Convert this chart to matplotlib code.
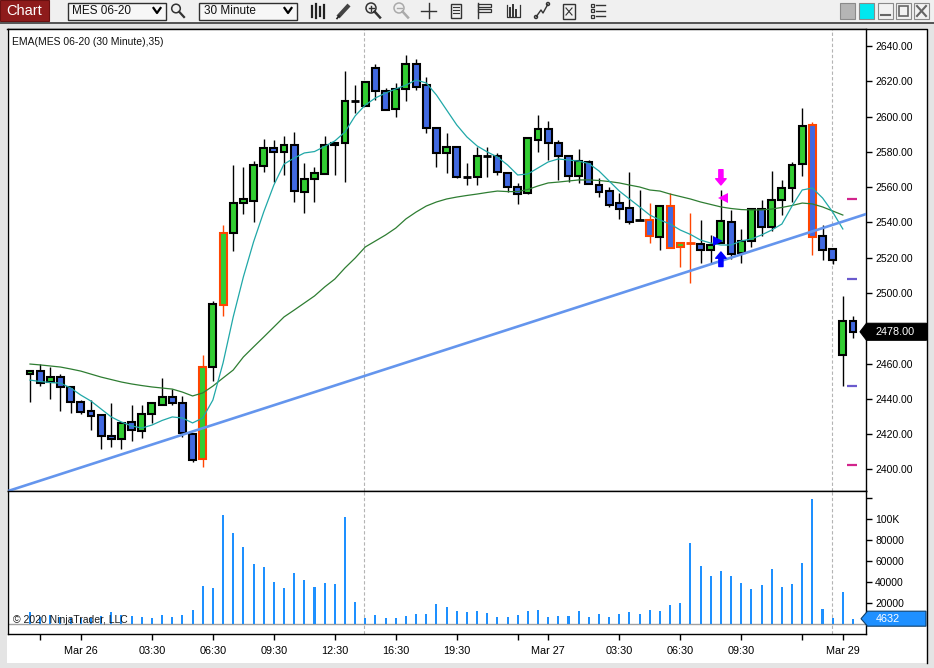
import matplotlib
matplotlib.use('Agg')
import matplotlib.pyplot as plt
import numpy as np
from matplotlib.patches import Rectangle, Polygon, Circle

plt.rcParams['font.family'] = ['Liberation Sans', 'DejaVu Sans']

# ---------------- data ----------------
opens = [2454.0, 2456.0, 2449.5, 2452.25, 2446.75, 2438.25, 2433.0, 2430.75, 2419.0, 2417.25,
         2426.75, 2421.75, 2431.5, 2436.5, 2441.0, 2437.5, 2420.0, 2405.75, 2458.0, 2493.25,
         2534.0, 2551.0, 2552.25, 2572.0, 2582.25, 2580.0, 2584.0, 2557.25, 2564.5, 2567.5,
         2584.0, 2585.0, 2609.0, 2606.0, 2627.5, 2614.75, 2604.25, 2615.5, 2629.75, 2618.0,
         2593.5, 2579.25, 2583.0, 2566.0, 2566.0, 2577.75, 2577.75, 2568.25, 2560.25, 2556.75,
         2587.0, 2593.25, 2585.25, 2577.75, 2566.25, 2574.5, 2561.25, 2558.0, 2550.75, 2548.0,
         2541.5, 2541.5, 2531.5, 2549.25, 2526.25, 2528.25, 2527.75, 2524.5, 2528.25, 2540.5,
         2522.75, 2529.5, 2547.5, 2537.25, 2552.75, 2559.75, 2573.0, 2595.0, 2532.5, 2524.75,
         2464.75, 2484.25]
highs = [2456.25, 2459.75, 2458.0, 2454.0, 2446.75, 2439.25, 2439.25, 2430.75, 2437.5, 2426.25,
         2436.5, 2436.5, 2437.5, 2451.75, 2445.5, 2441.5, 2420.0, 2464.75, 2495.5, 2538.5,
         2572.5, 2571.5, 2574.75, 2587.25, 2586.75, 2589.0, 2591.25, 2573.75, 2571.5, 2589.0,
         2585.0, 2626.0, 2618.0, 2619.75, 2630.0, 2616.5, 2619.0, 2635.0, 2632.75, 2622.75,
         2593.5, 2590.75, 2583.0, 2573.75, 2583.0, 2583.0, 2579.5, 2568.25, 2562.5, 2587.75,
         2601.0, 2597.75, 2586.5, 2577.75, 2581.5, 2575.5, 2565.25, 2560.25, 2556.75, 2568.75,
         2558.5, 2551.0, 2549.25, 2556.5, 2528.25, 2545.5, 2541.5, 2533.0, 2558.5, 2547.0,
         2536.25, 2547.5, 2552.75, 2569.25, 2564.0, 2574.0, 2604.75, 2597.0, 2538.5, 2524.75,
         2498.25, 2487.0]
lows = [2438.25, 2447.25, 2440.0, 2433.0, 2432.0, 2431.5, 2422.25, 2411.5, 2412.5, 2411.5,
        2416.0, 2417.75, 2426.25, 2436.5, 2436.5, 2418.25, 2404.0, 2401.25, 2450.0, 2487.0,
        2523.75, 2545.0, 2540.25, 2568.5, 2563.0, 2567.0, 2551.5, 2545.25, 2551.5, 2567.5,
        2567.0, 2563.0, 2602.0, 2606.0, 2609.5, 2603.75, 2599.75, 2609.0, 2615.0, 2591.0,
        2571.5, 2568.0, 2565.25, 2561.25, 2561.25, 2566.0, 2567.0, 2557.0, 2550.5, 2556.0,
        2580.0, 2575.5, 2564.0, 2563.0, 2562.5, 2561.75, 2554.5, 2549.0, 2542.0, 2539.0,
        2541.5, 2528.5, 2524.5, 2525.25, 2515.0, 2505.5, 2517.25, 2517.0, 2528.25, 2519.0,
        2517.25, 2526.25, 2532.25, 2535.0, 2544.25, 2551.75, 2566.25, 2521.5, 2518.75, 2516.5,
        2447.25, 2474.5]
closes = [2455.75, 2448.75, 2452.25, 2446.75, 2438.25, 2432.5, 2430.25, 2419.0, 2417.25, 2426.25,
          2422.25, 2431.5, 2437.5, 2441.0, 2437.5, 2420.5, 2405.25, 2458.0, 2493.75, 2534.0,
          2551.0, 2553.25, 2572.5, 2582.25, 2580.0, 2584.0, 2557.75, 2564.5, 2568.0, 2584.0,
          2585.0, 2609.0, 2609.0, 2619.75, 2614.75, 2603.75, 2615.5, 2629.75, 2617.0, 2593.75,
          2579.25, 2582.5, 2566.0, 2566.0, 2577.75, 2577.75, 2568.75, 2560.0, 2556.0, 2587.75,
          2592.75, 2585.0, 2577.75, 2566.25, 2574.75, 2561.75, 2557.0, 2550.0, 2547.5, 2540.5,
          2541.5, 2532.25, 2549.25, 2525.25, 2528.25, 2528.25, 2524.5, 2527.25, 2541.0, 2522.0,
          2529.5, 2547.5, 2537.5, 2552.75, 2559.75, 2572.5, 2594.75, 2532.0, 2524.5, 2518.75,
          2484.25, 2478.0]
volumes = [10700, 6000, 8000, 6000, 5000, 5000, 5000, 7000, 11000, 8000,
           7000, 6000, 5000, 8000, 6000, 8000, 13000, 36000, 34000, 104000,
           86500, 73000, 57000, 54000, 40000, 34000, 48000, 41600, 35000, 38600,
           37600, 102000, 20600, 5300, 8000, 5000, 5000, 7000, 9000, 9000,
           18600, 15800, 12000, 11000, 11800, 10000, 6000, 6000, 8000, 12000,
           13000, 6000, 7000, 7000, 12000, 6000, 9000, 6000, 9000, 11000,
           9000, 13000, 12000, 17600, 19600, 77000, 55000, 45500, 50000, 45500,
           38600, 33000, 37000, 52000, 35000, 37600, 57600, 119000, 14000, 5000,
           30000, 4632]
fast_ema = [2450.6, 2449.8, 2449.2, 2448.9, 2446.1, 2442.1, 2438.7, 2434.2, 2429.7, 2426.8,
            2424.6, 2423.4, 2425.1, 2427.7, 2429.7, 2429.1, 2426.3, 2429.1, 2439.3, 2460.3,
            2486.4, 2509.1, 2528.9, 2545.9, 2561.2, 2573.1, 2576.5, 2579.4, 2580.2, 2583.1,
            2586.2, 2591.3, 2600.4, 2606.6, 2610.6, 2613.4, 2615.7, 2617.9, 2620.8, 2619.1,
            2612.3, 2603.8, 2595.3, 2588.5, 2583.4, 2580.0, 2577.1, 2572.6, 2566.9, 2567.5,
            2570.9, 2574.3, 2576.0, 2575.4, 2574.8, 2573.4, 2569.2, 2563.5, 2557.8, 2553.3,
            2548.8, 2544.2, 2541.4, 2539.1, 2535.7, 2533.2, 2530.0, 2528.3, 2527.2, 2527.2,
            2529.5, 2530.6, 2532.9, 2535.7, 2539.1, 2549.3, 2558.4, 2559.5, 2553.9, 2545.9,
            2536.3]
ema35 = [2459.7, 2459.2, 2458.6, 2458.0, 2456.9, 2455.7, 2454.0, 2452.3, 2450.9, 2449.5,
         2448.4, 2447.5, 2446.7, 2446.1, 2445.5, 2443.8, 2441.6, 2443.3, 2447.2, 2451.8,
         2456.3, 2463.7, 2469.4, 2475.0, 2480.7, 2486.4, 2490.3, 2494.3, 2498.3, 2503.4,
         2507.9, 2514.2, 2519.8, 2526.1, 2529.5, 2532.9, 2536.8, 2542.0, 2545.9, 2549.3,
         2551.6, 2553.3, 2554.4, 2555.3, 2556.1, 2557.0, 2557.8, 2557.5, 2557.5, 2558.7,
         2560.7, 2562.4, 2562.9, 2563.5, 2564.1, 2564.1, 2563.8, 2563.2, 2562.4, 2561.2,
         2560.1, 2558.4, 2557.8, 2556.1, 2554.7, 2553.3, 2551.6, 2550.2, 2548.8, 2547.9,
         2547.3, 2547.1, 2547.1, 2547.6, 2548.5, 2549.6, 2551.0, 2550.5, 2548.8, 2546.5,
         2544.2]
highlight_bars = [17, 19, 61, 63, 64, 65, 77]
session_breaks = [32.9, 78.97]
trend_bars = [0, 80]
trend_prices = [2391.7, 2540.5]
tick_bars = [1, 5, 12, 18, 24, 30, 36, 42, 48, 51, 58, 64, 70, 76, 80]
tick_labels = ['', 'Mar 26', '03:30', '06:30', '09:30', '12:30', '16:30', '19:30',
               '', 'Mar 27', '03:30', '06:30', '09:30', '', 'Mar 29']
price_ticks = [2400, 2420, 2440, 2460, 2480, 2500, 2520, 2540, 2560, 2580, 2600, 2620, 2640]
vol_ticks = [0, 20000, 40000, 60000, 80000, 100000, 120000]
vol_tick_labels = ['0', '20000', '40000', '60000', '80000', '100K', '']
signal_bar = 68
short_arrow_tip = 2561.25
long_arrow_tip = 2523.25
short_fill_price = 2553.9
long_fill_price = 2529.5
right_marks_pink = [2553.2, 2402.4]
right_marks_purple = [2507.9, 2447.4]

GREEN = '#32CD32'
BLUE = '#4169E1'
ORANGE = '#FF4500'
TEAL = '#20A8A8'
DKGREEN = '#2E7D32'

W, H = 934, 668
fig = plt.figure(figsize=(W / 100, H / 100), dpi=100)


def fx(px):
    return px / W


def fy(py):
    return 1 - py / H


# ---------------- background chrome ----------------
ov = fig.add_axes([0, 0, 1, 1], zorder=-5)
ov.set_xlim(0, W)
ov.set_ylim(H, 0)
ov.axis('off')
ov.add_patch(Rectangle((0, 0), W, H, fc='#e4e4e4', ec='none'))
ov.add_patch(Rectangle((0, 0), W, 22, fc='#f0f0f0', ec='none'))
ov.plot([0, W], [22.5, 22.5], color='#3a3a3a', lw=1.2)
ov.add_patch(Rectangle((7, 29), 920, 634, fc='white', ec='none'))
ov.plot([7, 926.5, 926.5], [29, 29, 663], color='black', lw=1.0)

# Chart button
ov.add_patch(Rectangle((0, 0), 49, 21, fc='#8e1b1b', ec='#6a1010', lw=0.8))
ov.text(6, 11, 'Chart', color='white', fontsize=10.5, va='center', ha='left')

# drop-downs
for x0, label in [(67.5, 'MES 06-20'), (198.5, '30 Minute')]:
    ov.add_patch(Rectangle((x0, 2.5), 98, 17, fc='#f7f7f7', ec='#303030', lw=1.0))
    ov.text(x0 + 5, 11.2, label, fontsize=8.5, va='center', ha='left', color='#111111')
    ov.plot([x0 + 86, x0 + 89.5, x0 + 93], [8, 13, 8], color='black', lw=1.6)

# magnifier
ov.add_patch(Circle((176, 8.5), 4.3, fill=False, ec='#333333', lw=1.1))
ov.plot([179.2, 184], [11.8, 17], color='#333333', lw=1.6)

# bars icon
for xx, (a, b) in zip([312, 316, 320, 324], [(6, 17), (4, 18), (7, 16), (5, 18)]):
    ov.plot([xx, xx], [a, b], color='#222222', lw=1.6)
# pencil
ov.plot([338, 349], [17, 5], color='#444444', lw=3.0, solid_capstyle='butt')
ov.plot([337, 339], [18.5, 16], color='#222222', lw=1.2)
# zoom in / out
for cx, col, sign in [(371, '#333333', '+'), (399, '#aaaaaa', '-')]:
    ov.add_patch(Circle((cx, 8), 5, fill=False, ec=col, lw=1.1))
    ov.plot([cx + 3.6, cx + 9], [11.6, 17.5], color=col, lw=1.8)
    ov.plot([cx - 2.5, cx + 2.5], [8, 8], color=col, lw=1.0)
    if sign == '+':
        ov.plot([cx, cx], [5.5, 10.5], color=col, lw=1.0)
# cross
ov.plot([428.5, 428.5], [3, 18], color='#333333', lw=1.0)
ov.plot([421, 436], [10.5, 10.5], color='#333333', lw=1.0)
# document icon
ov.add_patch(Rectangle((451, 3.5), 10, 14, fill=False, ec='#333333', lw=1.0))
for yy in [7, 10, 13]:
    ov.plot([453, 459], [yy, yy], color='#333333', lw=0.8)
# data box icon
ov.plot([478, 478], [3, 18], color='#333333', lw=1.0)
for yy in [5, 10]:
    ov.add_patch(Rectangle((478, yy - 1.5), 13, 3, fill=False, ec='#333333', lw=0.9))
# bracket bars icon
ov.plot([507, 507, 520, 520], [5, 17, 17, 5], color='#333333', lw=0.9)
for xx, a in zip([510, 513, 516], [8, 5, 10]):
    ov.plot([xx, xx], [a, 16], color='#333333', lw=1.4)
# line drawing icon
ov.plot([536, 541, 543, 548], [17, 10, 13, 4], color='#333333', lw=1.0)
for px_, py_ in [(536, 17), (548, 4)]:
    ov.add_patch(Circle((px_, py_), 1.6, fill=False, ec='#333333', lw=0.9))
# doc with x
ov.add_patch(Rectangle((563, 3.5), 12, 15, fill=False, ec='#333333', lw=1.0))
ov.plot([566, 572], [8, 15], color='#333333', lw=0.8)
ov.plot([572, 566], [8, 15], color='#333333', lw=0.8)
# list icon
for yy in [5, 10.5, 16]:
    ov.add_patch(Rectangle((591, yy - 1.5), 3, 3, fill=False, ec='#333333', lw=0.9))
    ov.plot([596, 605], [yy, yy], color='#333333', lw=1.0)
# window buttons
ov.add_patch(Rectangle((840, 3), 15, 16, fc='#b5b5b5', ec='#8a8a8a', lw=0.8))
ov.add_patch(Rectangle((859, 3), 15, 16, fc='#00e8f0', ec='#8a8a8a', lw=0.8))
for x0 in [878, 896, 914]:
    ov.add_patch(Rectangle((x0, 3), 15, 16, fc='#f2f2f2', ec='#8a8a8a', lw=0.8))
ov.plot([881, 890], [15, 15], color='#666666', lw=1.5)
ov.add_patch(Rectangle((899, 6), 9, 10, fill=False, ec='#666666', lw=1.2))
ov.plot([917, 926], [6, 16], color='#666666', lw=1.5)
ov.plot([926, 917], [6, 16], color='#666666', lw=1.5)

# ---------------- price panel ----------------
ax = fig.add_axes([fx(8), fy(491), fx(858), (491 - 29) / H], zorder=2)
axv = fig.add_axes([fx(8), fy(634), fx(858), (634 - 491) / H], zorder=2)
for a in (ax, axv):
    a.set_facecolor('white')
    a.set_xlim(-2.165, 82.28)
    for s in a.spines.values():
        s.set_color('black')
        s.set_linewidth(1.0)

ax.set_ylim(2387.7, 2649.7)
n = len(opens)
w = 0.68
for i in range(n):
    o, h, l, c = opens[i], highs[i], lows[i], closes[i]
    ec = ORANGE if i in highlight_bars else 'black'
    ax.vlines(i, l, h, color=ec, lw=1.0, zorder=3)
    if o == c:
        ax.hlines(o, i - w / 2 - 0.07, i + w / 2 + 0.07, color=ec, lw=2.0, zorder=4)
    else:
        fc = GREEN if c > o else BLUE
        ax.add_patch(Rectangle((i - w / 2, min(o, c)), w, abs(c - o), facecolor=fc,
                               edgecolor=ec, lw=1.5, zorder=4))

xe = np.arange(len(fast_ema))
ax.plot(xe, ema35, color=DKGREEN, lw=0.9, zorder=5)
ax.plot(xe, fast_ema, color=TEAL, lw=0.9, zorder=5)
ax.axline((trend_bars[0], trend_prices[0]), (trend_bars[1], trend_prices[1]),
          color='#6495ED', lw=1.9, zorder=6)

for b in session_breaks:
    ax.axvline(b, color='#b4b4b4', lw=0.8, ls=(0, (3, 2)), zorder=1)
    axv.axvline(b, color='#b4b4b4', lw=0.8, ls=(0, (3, 2)), zorder=1)

# signal markers
ax.annotate('', xy=(signal_bar, short_arrow_tip), xytext=(0, 11), textcoords='offset points',
            arrowprops=dict(arrowstyle='simple,head_length=0.45,head_width=0.75,tail_width=0.3',
                            color='#FF00FF', shrinkA=0, shrinkB=0, mutation_scale=10), zorder=7)
ax.annotate('', xy=(signal_bar, long_arrow_tip), xytext=(0, -10.5), textcoords='offset points',
            arrowprops=dict(arrowstyle='simple,head_length=0.45,head_width=0.75,tail_width=0.3',
                            color='#0000FF', shrinkA=0, shrinkB=0, mutation_scale=10), zorder=7)
ax.plot([signal_bar + 0.25], [short_fill_price], marker='<', color='#FF00FF', ms=6.5, mew=0, zorder=7)
ax.plot([signal_bar - 0.3], [long_fill_price], marker='>', color='#0000FF', ms=6.5, mew=0, zorder=7)
ax.hlines(right_marks_pink, 80.4, 81.4, color='#D2248C', lw=1.6, zorder=7)
ax.hlines(right_marks_purple, 80.4, 81.4, color='#6A5ACD', lw=1.6, zorder=7)

# tick labels hidden behind the last-value boxes (as in the reference)
last_close = closes[-1]
last_vol = volumes[-1]
price_labels = ['' if abs(p - last_close) < 7 else '%.2f' % p for p in price_ticks]
vol_labels = ['' if abs(v - last_vol) < 7000 else lab for v, lab in zip(vol_ticks, vol_tick_labels)]

ax.yaxis.tick_right()
ax.set_yticks(price_ticks)
ax.set_yticklabels(price_labels)
ax.tick_params(axis='y', direction='out', length=4, width=1.0, pad=2.5, labelsize=7.5,
               colors='black')
ax.set_xticks([])
ax.text(0.005, 0.972, 'EMA(MES 06-20 (30 Minute),35)', transform=ax.transAxes,
        fontsize=7.5, va='center', ha='left', color='#111111')

# ---------------- volume panel ----------------
axv.set_ylim(-10000, 126700)
axv.bar(np.arange(n), volumes, width=0.2, color='#1E90FF', zorder=3)
axv.axhline(0, color='#a0a0a0', lw=1.0, zorder=2)
axv.yaxis.tick_right()
axv.set_yticks(vol_ticks)
axv.set_yticklabels(vol_labels)
axv.tick_params(axis='y', direction='out', length=4, width=1.0, pad=2.5, labelsize=7.5)
axv.set_xticks(tick_bars)
axv.set_xticklabels(tick_labels)
axv.tick_params(axis='x', direction='out', length=4, width=1.0, pad=4.5, labelsize=7.8)
axv.text(0.006, 0.098, '\u00a9 2020 NinjaTrader, LLC', transform=axv.transAxes,
         fontsize=7.5, va='center', ha='left', color='#1a1a1a', zorder=6)

# ---------------- last value labels ----------------
ovf = fig.add_axes([0, 0, 1, 1], zorder=20)
ovf.set_xlim(0, W)
ovf.set_ylim(H, 0)
ovf.axis('off')
ovf.patch.set_alpha(0)

yp = H - ax.transData.transform((0, last_close))[1]
ovf.add_patch(Polygon([(860, yp), (866.5, yp - 8.5), (926.5, yp - 8.5), (926.5, yp + 8.5),
                       (866.5, yp + 8.5)], closed=True, fc='black', ec='black', lw=0.8))
ovf.text(876, yp + 0.5, '%.2f' % last_close, color='white', fontsize=7.8, va='center', ha='left')

yv = H - axv.transData.transform((0, last_vol))[1]
ovf.add_patch(Polygon([(861, yv), (867.5, yv - 7.5), (926, yv - 7.5), (926, yv + 7.5),
                       (867.5, yv + 7.5)], closed=True, fc='#1E90FF', ec='#10406a', lw=0.8))
ovf.text(876, yv + 0.5, str(last_vol), color='white', fontsize=7.8, va='center', ha='left')

fig.savefig('out.png', dpi=100)
